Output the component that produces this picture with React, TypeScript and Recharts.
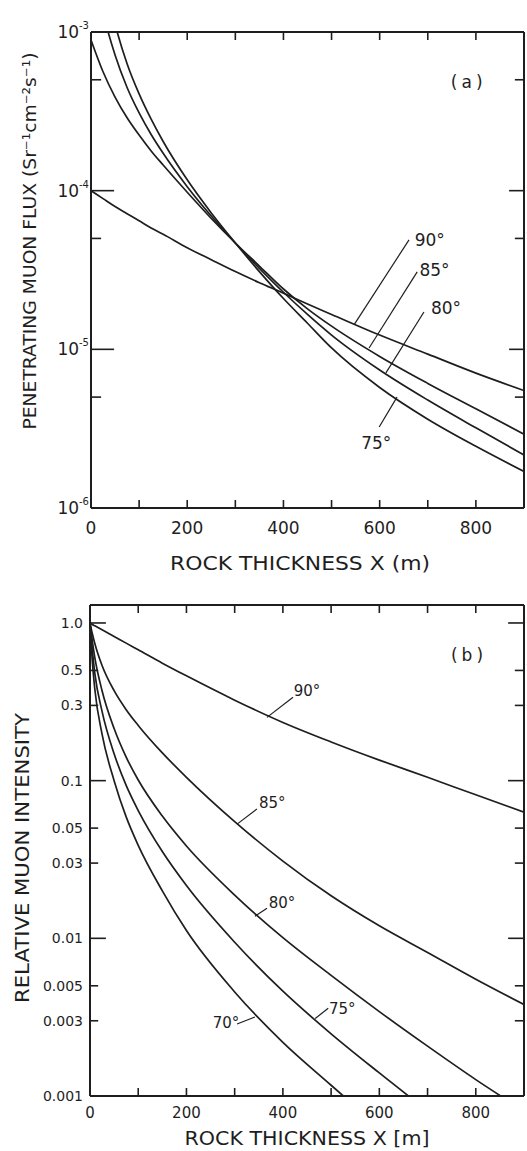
import { LineChart, Line, XAxis, YAxis, ReferenceLine, ReferenceDot } from 'recharts'

const INK = '#1e1e1e'
const FONT = '"DejaVu Sans", sans-serif'

// (a) penetrating muon flux vs rock thickness, zenith angles 90/85/80/75
const thicknessA = [0, 25, 50, 75, 100, 125, 150, 200, 250, 300, 350, 400, 450, 500, 600, 700, 800, 900]
const flux90 = [1.0e-4, 8.91e-5, 7.94e-5, 7.16e-5, 6.46e-5, 5.82e-5, 5.31e-5, 4.37e-5, 3.67e-5, 3.09e-5, 2.63e-5, 2.26e-5, 1.93e-5, 1.66e-5, 1.23e-5, 9.33e-6, 7.08e-6, 5.5e-6]
const flux85 = [8.91e-4, 5.62e-4, 3.89e-4, 2.88e-4, 2.24e-4, 1.78e-4, 1.45e-4, 9.77e-5, 6.68e-5, 4.68e-5, 3.35e-5, 2.4e-5, 1.8e-5, 1.4e-5, 9.02e-6, 6.1e-6, 4.22e-6, 2.92e-6]
const flux80 = [3.16e-3, 1.33e-3, 7.16e-4, 4.47e-4, 3.09e-4, 2.26e-4, 1.72e-4, 1.06e-4, 6.92e-5, 4.68e-5, 3.24e-5, 2.29e-5, 1.66e-5, 1.23e-5, 7.41e-6, 4.79e-6, 3.2e-6, 2.16e-6]
const flux75 = [6.31e-3, 2.4e-3, 1.12e-3, 6.31e-4, 4.07e-4, 2.82e-4, 2.04e-4, 1.17e-4, 7.24e-5, 4.68e-5, 3.09e-5, 2.09e-5, 1.46e-5, 1.02e-5, 5.75e-6, 3.63e-6, 2.45e-6, 1.7e-6]

// (b) relative muon intensity vs rock thickness, zenith angles 90..70
const thicknessB = [0, 5, 10, 25, 50, 75, 100, 150, 200, 300, 400, 500, 600, 700, 800, 900]
const rel90 = [1, 0.977, 0.959, 0.906, 0.822, 0.745, 0.676, 0.556, 0.462, 0.324, 0.234, 0.176, 0.135, 0.105, 0.0813, 0.0631]
const rel85 = [1, 0.851, 0.741, 0.537, 0.372, 0.282, 0.224, 0.15, 0.105, 0.055, 0.0309, 0.0186, 0.012, 0.00813, 0.0055, 0.0038]
const rel80 = [1, 0.759, 0.603, 0.372, 0.214, 0.141, 0.101, 0.0596, 0.0385, 0.0188, 0.0101, 0.00582, 0.00343, 0.00207, 0.00127, 0.000804]
const rel75 = [1, 0.661, 0.479, 0.275, 0.148, 0.0933, 0.0646, 0.0355, 0.0216, 0.00944, 0.00462, 0.00248, 0.0014, 0.000804, null, null]
const rel70 = [1, 0.562, 0.38, 0.197, 0.1, 0.0589, 0.0389, 0.02, 0.0112, 0.00457, 0.00219, 0.00117, 0.000631, null, null, null]

const xTicks = [0, 100, 200, 300, 400, 500, 600, 700, 800]
const xLabelled = [0, 200, 400, 600, 800]

const fluxTicks = [1e-6, 5e-6, 1e-5, 5e-5, 1e-4, 5e-4, 1e-3]
const fluxMajor = [1e-6, 1e-5, 1e-4, 1e-3]
const fluxExponents = ['-6', '-5', '-4', '-3']

const relTicks = [0.001, 0.003, 0.005, 0.01, 0.03, 0.05, 0.1, 0.3, 0.5, 1]
const relTickText = ['0.001', '0.003', '0.005', '0.01', '0.03', '0.05', '0.1', '0.3', '0.5', '1.0']
const relMajor = [0.001, 0.01, 0.1, 1]

// inward tick lengths on the y axes, in metres of rock (x units)
const TICK_A = { leftMajor: 48, leftMinor: 21, rightMajor: 31, rightMinor: 19 }
const TICK_B = { leftMajor: 33, leftMinor: 17, rightMajor: 33, rightMinor: 19 }

// curve annotations: leader line (curve point -> label end) and label centre, in data units
const notesA = [
  { text: '90°', from: [547, 1.43e-5], to: [661, 4.9e-5], at: [704, 4.9e-5] },
  { text: '85°', from: [578, 1.02e-5], to: [678, 3.08e-5], at: [714, 3.16e-5] },
  { text: '80°', from: [613, 7.1e-6], to: [692, 1.72e-5], at: [738, 1.82e-5] },
  { text: '75°', from: [636, 5.0e-6], to: [599, 3.24e-6], at: [593, 2.57e-6] },
]
const notesB = [
  { text: '90°', from: [367, 0.252], to: [421, 0.338], at: [450, 0.374] },
  { text: '85°', from: [305, 0.053], to: [346, 0.066], at: [378, 0.073] },
  { text: '80°', from: [342, 0.0138], to: [367, 0.0155], at: [398, 0.0168] },
  { text: '75°', from: [467, 0.0031], to: [494, 0.0036], at: [523, 0.0036] },
  { text: '70°', from: [342, 0.00317], to: [305, 0.00286], at: [282, 0.00291] },
]

const dataA = thicknessA.map((x, i) => ({ x, d90: flux90[i], d85: flux85[i], d80: flux80[i], d75: flux75[i] }))
const dataB = thicknessB.map((x, i) => ({ x, d90: rel90[i], d85: rel85[i], d80: rel80[i], d75: rel75[i], d70: rel70[i] }))

function XTick(props: any) {
  const { x, y, payload, side, fontSize, dy } = props
  const dir = side === 'top' ? 1 : -1
  const show = side === 'bottom' && xLabelled.includes(payload.value)
  return (
    <g>
      <path d={`M${x},${y}V${y + dir * 8}`} stroke={INK} strokeWidth={1.6} fill="none" />
      {show && (
        <text x={x} y={y + dy} textAnchor="middle" fontSize={fontSize} fill={INK} fontFamily={FONT}>
          {payload.value}
        </text>
      )}
    </g>
  )
}

function FluxLabel(props: any) {
  const { x, y, payload } = props
  const i = fluxMajor.indexOf(payload.value)
  if (i < 0) return <g />
  return (
    <text x={Number(x) - 2} y={Number(y) + 6} textAnchor="end" fontSize={17} fill={INK} fontFamily={FONT}>
      10
      <tspan dy={-9} fontSize={10}>
        {fluxExponents[i]}
      </tspan>
    </text>
  )
}

function RelLabel(props: any) {
  const { x, y, payload } = props
  const i = relTicks.indexOf(payload.value)
  return (
    <text x={Number(x) - 7} y={Number(y) + 5} textAnchor="end" fontSize={14} fill={INK} fontFamily={FONT}>
      {relTickText[i]}
    </text>
  )
}

const titleX = (text: string, cx: number, cy: number, len: number) => () => (
  <text x={cx} y={cy} dy="0.36em" textAnchor="middle" fontSize={20} fill={INK} fontFamily={FONT} textLength={len} lengthAdjust="spacingAndGlyphs">
    {text}
  </text>
)

const titleY = (text: string, cx: number, cy: number, len: number, size: number) => () => (
  <text x={cx} y={cy} dy="0.36em" transform={`rotate(-90 ${cx} ${cy})`} textAnchor="middle" fontSize={size} fill={INK} fontFamily={FONT} textLength={len} lengthAdjust="spacingAndGlyphs">
    {text}
  </text>
)

const noteShape = (text: string, size: number, spacing = 0) => (p: any) => (
  <text x={p.cx} y={p.cy} dy="0.36em" textAnchor="middle" fontSize={size} fill={INK} fontFamily={FONT} letterSpacing={spacing}>
    {text}
  </text>
)

const lineProps = {
  type: 'monotone' as const,
  dot: false,
  stroke: INK,
  strokeWidth: 1.7,
  isAnimationActive: false,
  xAxisId: 'bottom',
  yAxisId: 'left',
}

const axisLine = { stroke: INK, strokeWidth: 2 }

// inward y ticks on both sides, drawn as short segments in data space
function yTickMarks(ticks: number[], major: number[], len: typeof TICK_A, skipRight: number[]) {
  const out: any[] = []
  ticks.forEach((v) => {
    const big = major.includes(v)
    out.push(
      <ReferenceLine key={'yl' + v} xAxisId="bottom" yAxisId="left" stroke={INK} strokeWidth={1.6} ifOverflow="visible"
        segment={[{ x: 0, y: v }, { x: big ? len.leftMajor : len.leftMinor, y: v }]} />,
    )
    if (!skipRight.includes(v)) {
      out.push(
        <ReferenceLine key={'yr' + v} xAxisId="bottom" yAxisId="left" stroke={INK} strokeWidth={1.6} ifOverflow="visible"
          segment={[{ x: 900 - (big ? len.rightMajor : len.rightMinor), y: v }, { x: 900, y: v }]} />,
      )
    }
  })
  return out
}

export default function App() {
  return (
    <div style={{ position: 'absolute', left: 0, top: 0, width: 527, height: 1151, background: '#fff' }}>
      <div style={{ position: 'absolute', left: 0, top: 0 }}>
        <LineChart width={527} height={580} data={dataA} margin={{ top: 31, right: 0, bottom: 0, left: 0 }}>
          <XAxis xAxisId="bottom" type="number" dataKey="x" domain={[0, 900]} allowDataOverflow ticks={xTicks} interval={0}
            tickSize={0} tickMargin={0} height={72} axisLine={axisLine} tickLine={false}
            tick={<XTick side="bottom" fontSize={17} dy={26} />}
            label={{ content: titleX('ROCK THICKNESS X (m)', 300, 563, 260) }} />
          <XAxis xAxisId="top" orientation="top" type="number" dataKey="x" domain={[0, 900]} allowDataOverflow ticks={xTicks.slice(1)} interval={0}
            tickSize={0} tickMargin={0} height={1} axisLine={axisLine} tickLine={false} tick={<XTick side="top" />} />
          <YAxis yAxisId="left" type="number" scale="log" domain={[1e-6, 1e-3]} allowDataOverflow ticks={fluxTicks} interval={0}
            tickSize={0} tickMargin={0} width={91} axisLine={axisLine} tickLine={false} tick={<FluxLabel />}
            label={{ content: titleY('PENETRATING MUON FLUX (Sr⁻¹cm⁻²s⁻¹)', 30, 241, 377, 18) }} />
          <YAxis yAxisId="right" orientation="right" type="number" scale="log" domain={[1e-6, 1e-3]} allowDataOverflow ticks={[]}
            tickSize={0} width={3} axisLine={axisLine} tickLine={false} tick={false} />
          {yTickMarks(fluxTicks, fluxMajor, TICK_A, [1e-6, 1e-3])}
          <Line {...lineProps} dataKey="d90" />
          <Line {...lineProps} dataKey="d85" />
          <Line {...lineProps} dataKey="d80" />
          <Line {...lineProps} dataKey="d75" />
          {notesA.map((n) => (
            <ReferenceLine key={'l' + n.text} xAxisId="bottom" yAxisId="left" stroke={INK} strokeWidth={1.2}
              segment={[{ x: n.from[0], y: n.from[1] }, { x: n.to[0], y: n.to[1] }]} />
          ))}
          {notesA.map((n) => (
            <ReferenceDot key={'t' + n.text} xAxisId="bottom" yAxisId="left" x={n.at[0]} y={n.at[1]} r={2} shape={noteShape(n.text, 17)} />
          ))}
          <ReferenceDot xAxisId="bottom" yAxisId="left" x={785} y={4.84e-4} r={2} shape={noteShape('(a)', 17, 4)} />
        </LineChart>
      </div>
      <div style={{ position: 'absolute', left: 0, top: 580 }}>
        <LineChart width={527} height={571} data={dataB} margin={{ top: 24, right: 0, bottom: 0, left: 0 }}>
          <XAxis xAxisId="bottom" type="number" dataKey="x" domain={[0, 900]} allowDataOverflow ticks={xTicks} interval={0}
            tickSize={0} tickMargin={0} height={55} axisLine={axisLine} tickLine={false}
            tick={<XTick side="bottom" fontSize={15} dy={22} />}
            label={{ content: titleX('ROCK THICKNESS X [m]', 307, 558, 245) }} />
          <XAxis xAxisId="top" orientation="top" type="number" dataKey="x" domain={[0, 900]} allowDataOverflow ticks={xTicks.slice(1)} interval={0}
            tickSize={0} tickMargin={0} height={1} axisLine={axisLine} tickLine={false} tick={<XTick side="top" />} />
          <YAxis yAxisId="left" type="number" scale="log" domain={[0.001, 1.3]} allowDataOverflow ticks={relTicks} interval={0}
            tickSize={0} tickMargin={0} width={90} axisLine={axisLine} tickLine={false} tick={<RelLabel />}
            label={{ content: titleY('RELATIVE MUON INTENSITY', 22, 278, 290, 19) }} />
          <YAxis yAxisId="right" orientation="right" type="number" scale="log" domain={[0.001, 1.3]} allowDataOverflow ticks={[]}
            tickSize={0} width={3} axisLine={axisLine} tickLine={false} tick={false} />
          {yTickMarks(relTicks, relMajor, TICK_B, [0.001])}
          <Line {...lineProps} dataKey="d90" />
          <Line {...lineProps} dataKey="d85" />
          <Line {...lineProps} dataKey="d80" />
          <Line {...lineProps} dataKey="d75" />
          <Line {...lineProps} dataKey="d70" />
          {notesB.map((n) => (
            <ReferenceLine key={'l' + n.text} xAxisId="bottom" yAxisId="left" stroke={INK} strokeWidth={1.2}
              segment={[{ x: n.from[0], y: n.from[1] }, { x: n.to[0], y: n.to[1] }]} />
          ))}
          {notesB.map((n) => (
            <ReferenceDot key={'t' + n.text} xAxisId="bottom" yAxisId="left" x={n.at[0]} y={n.at[1]} r={2} shape={noteShape(n.text, 15)} />
          ))}
          <ReferenceDot xAxisId="bottom" yAxisId="left" x={786} y={0.625} r={2} shape={noteShape('(b)', 17, 4)} />
        </LineChart>
      </div>
    </div>
  )
}
